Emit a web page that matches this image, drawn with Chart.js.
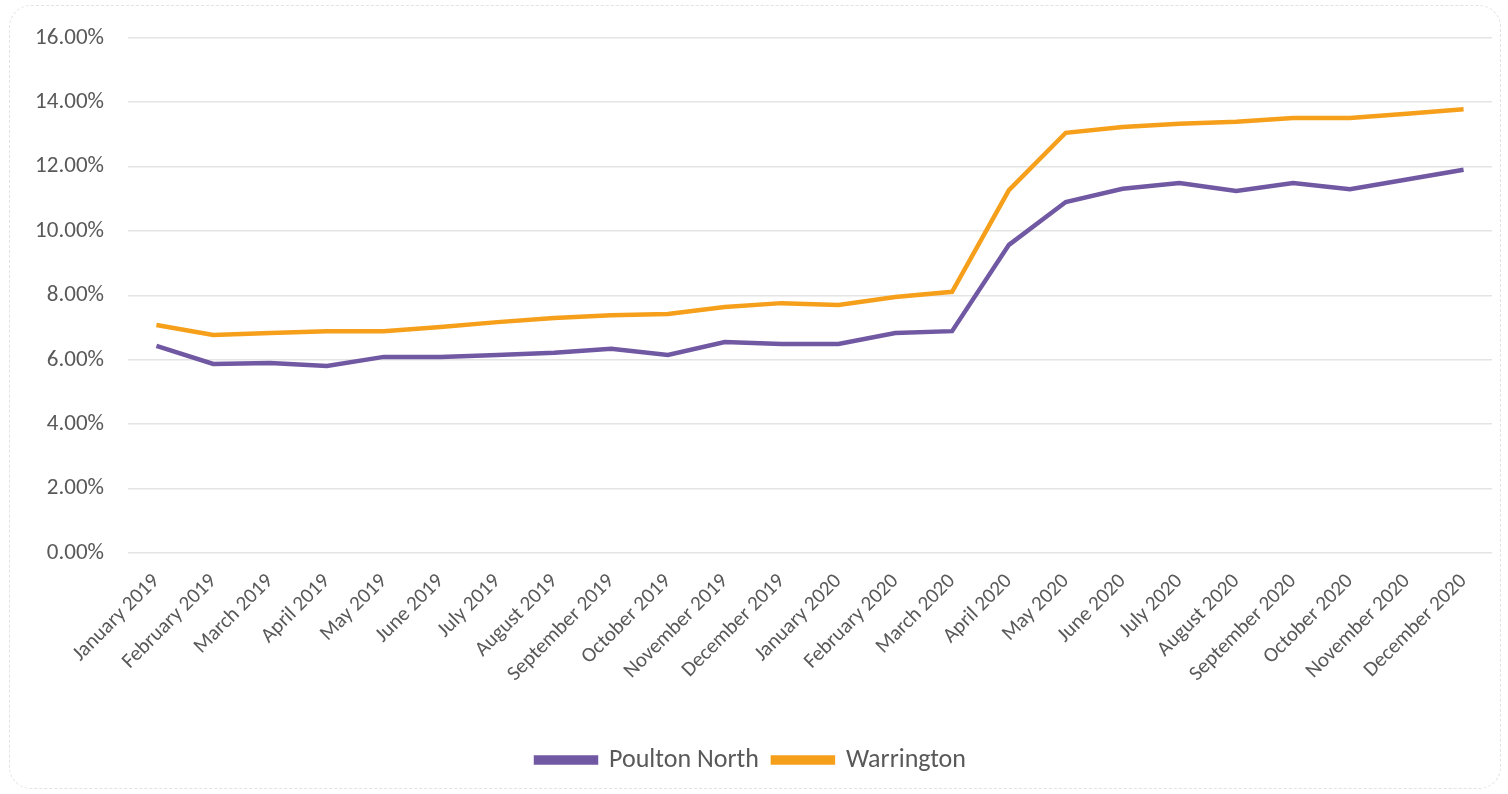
<!DOCTYPE html>
<html>
<head>
<meta charset="utf-8">
<script src="https://cdn.jsdelivr.net/npm/chart.js@4/dist/chart.umd.min.js"></script>
<style>
  html, body { margin: 0; padding: 0; background: #fff; }
  #frame {
    position: absolute; left: 9px; top: 5px; width: 1492px; height: 784px;
    border: 1px dashed #e3e3e3; border-radius: 22px; box-sizing: border-box;
  }
  #wrap { position: absolute; left: 0; top: 0; width: 1508px; height: 794px; }
</style>
</head>
<body>
<div id="frame"></div>
<div id="wrap"><canvas id="chart"></canvas></div>
<script>
// monthly rate, per cent
const months = [
  "January 2019", "February 2019", "March 2019", "April 2019", "May 2019", "June 2019",
  "July 2019", "August 2019", "September 2019", "October 2019", "November 2019", "December 2019",
  "January 2020", "February 2020", "March 2020", "April 2020", "May 2020", "June 2020",
  "July 2020", "August 2020", "September 2020", "October 2020", "November 2020", "December 2020"
];
const poultonNorth = [
  6.43, 5.87, 5.90, 5.81, 6.09, 6.09, 6.15, 6.22, 6.34, 6.15, 6.55, 6.49,
  6.49, 6.83, 6.89, 9.57, 10.90, 11.31, 11.49, 11.24, 11.49, 11.30, 11.60, 11.90
];
const warrington = [
  7.08, 6.77, 6.83, 6.89, 6.89, 7.02, 7.17, 7.30, 7.38, 7.42, 7.64, 7.76,
  7.70, 7.95, 8.11, 11.27, 13.05, 13.23, 13.33, 13.39, 13.51, 13.51, 13.64, 13.78
];
const yTicks = { min: 0, max: 16, step: 2 };

const purple = "#7158A2";
const orange = "#F59F1B";
const textGrey = "#595959";
const fontFamily = "Carlito, Lato, 'Open Sans', sans-serif";

new Chart(document.getElementById("chart"), {
  type: "line",
  data: {
    labels: months,
    datasets: [
      {
        label: "Poulton North",
        data: poultonNorth,
        borderColor: purple,
        backgroundColor: purple,
        borderWidth: 4.5,
        pointRadius: 0,
        tension: 0,
      },
      {
        label: "Warrington",
        data: warrington,
        borderColor: orange,
        backgroundColor: orange,
        borderWidth: 4.5,
        pointRadius: 0,
        tension: 0,
      },
    ],
  },
  options: {
    responsive: true,
    maintainAspectRatio: false,
    animation: false,
    layout: { padding: { left: 10, right: 16, top: 31, bottom: 11 } },
    plugins: {
      tooltip: { enabled: false },
      legend: {
        position: "bottom",
        labels: {
          color: textGrey,
          font: { family: fontFamily, size: 26 },
          boxWidth: 60,
          boxHeight: 5,
          padding: 14,
        },
      },
    },
    scales: {
      x: {
        offset: true,
        grid: { display: false, drawTicks: false },
        border: { display: false },
        ticks: {
          color: textGrey,
          font: { family: fontFamily, size: 21 },
          minRotation: 45,
          maxRotation: 45,
          autoSkip: false,
          padding: 16,
        },
        afterFit: (scale) => { scale.height = 180; },
      },
      y: {
        min: yTicks.min,
        max: yTicks.max,
        grid: { color: "#e4e4e4", lineWidth: 1.5, drawTicks: false },
        border: { display: false },
        ticks: {
          stepSize: yTicks.step,
          color: textGrey,
          font: { family: fontFamily, size: 23 },
          padding: 24,
          callback: (v) => v.toFixed(2) + "%",
        },
        afterFit: (scale) => { scale.width = 118; },
      },
    },
  },
});
</script>
</body>
</html>
